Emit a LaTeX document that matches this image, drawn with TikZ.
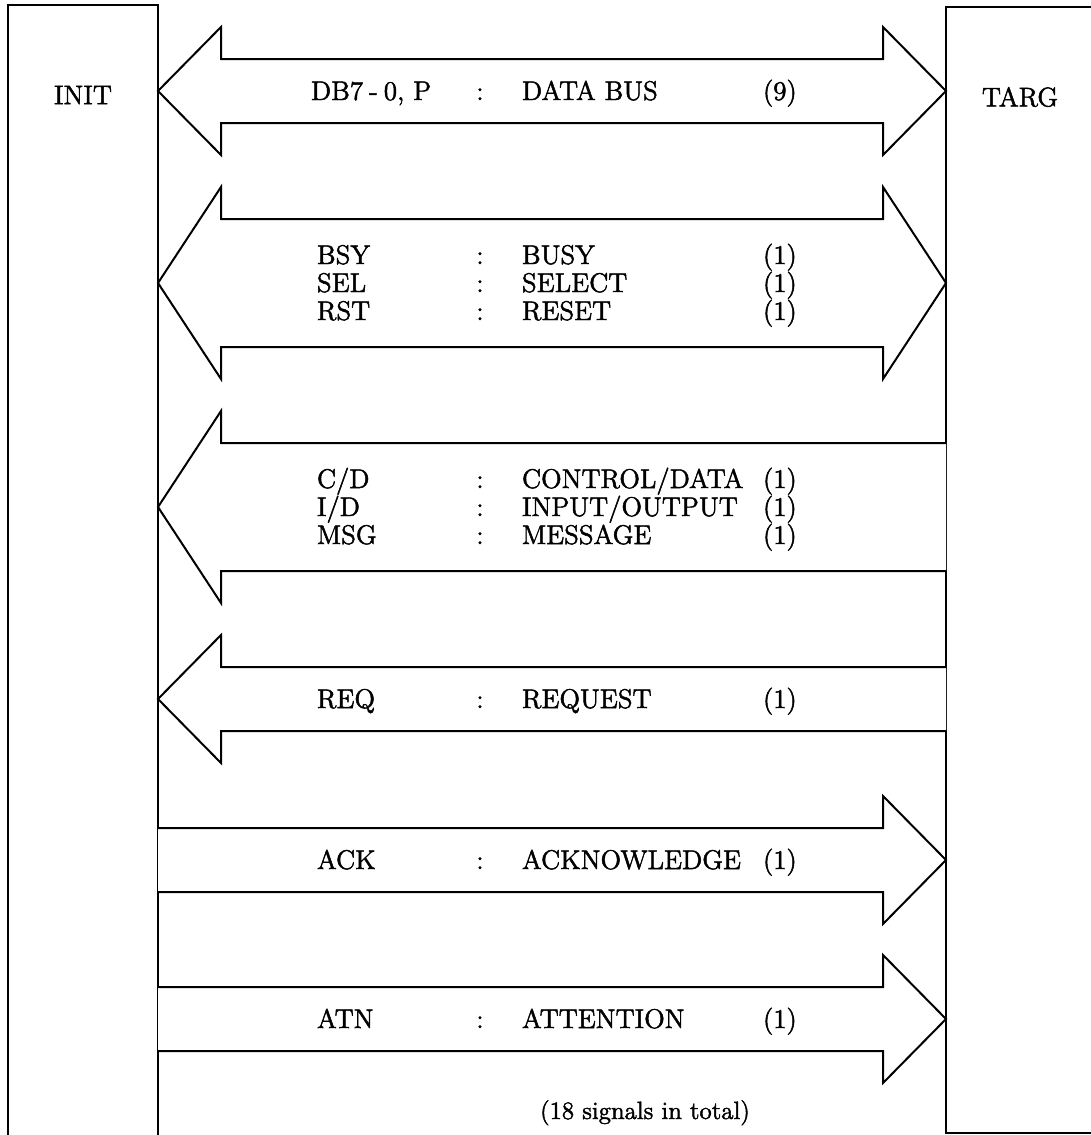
\documentclass[tikz,border=0pt]{standalone}
\usepackage{fontspec}
\setmainfont{Latin Modern Roman}[RawFeature={embolden=1.8}]
\begin{document}
\begin{tikzpicture}[x=0.5pt,y=-0.5pt,
  line width=1pt, line join=miter,
  unitbox/.style={draw, line width=1pt, inner sep=0pt},
  unitname/.style={font=\fontsize{13.5}{16}\selectfont},
  sig/.style={font=\fontsize{13.5}{16}\selectfont, anchor=base west, inner sep=0pt},
  sep/.style={font=\fontsize{13.5}{16}\selectfont, anchor=base, inner sep=0pt},
  note/.style={font=\fontsize{12.5}{15}\selectfont, anchor=base, inner sep=0pt},
  busarrow/.style={draw, line width=1pt, fill=white}]
\useasboundingbox (0,0) rectangle (1091,1135);

% initiator and target units
\node[unitbox, minimum width=75pt, minimum height=570pt] (initbox) at (83,575) {};
\node[unitbox, minimum width=100pt, minimum height=563pt] (targbox) at (1046,570) {};
\node[unitname] (init) at (83,95) {INIT};
\node[unitname] (targ) at (1020,97) {TARG};

% data bus (both ways)
\draw[busarrow] (158,91) -- (221,27) -- (221,59) -- (883,59) -- (883,27) -- (946,91)
  -- (883,155) -- (883,123) -- (221,123) -- (221,155) -- cycle;
% BSY, SEL, RST (both ways)
\draw[busarrow] (158,283) -- (221,187) -- (221,219) -- (883,219) -- (883,187) -- (946,283)
  -- (883,379) -- (883,347) -- (221,347) -- (221,379) -- cycle;
% C/D, I/O, MSG (target to initiator)
\draw[busarrow] (946,443) -- (221,443) -- (221,411) -- (158,507) -- (221,603) -- (221,571) -- (946,571);
% REQ (target to initiator)
\draw[busarrow] (946,667) -- (221,667) -- (221,635) -- (158,699) -- (221,763) -- (221,731) -- (946,731);
% ACK (initiator to target)
\draw[busarrow] (158,828) -- (883,828) -- (883,796) -- (946,860) -- (883,924) -- (883,892) -- (158,892);
% ATN (initiator to target)
\draw[busarrow] (158,987) -- (883,987) -- (883,955) -- (946,1019) -- (883,1083) -- (883,1051) -- (158,1051);

% signal lists
\node[sig] (db)   at (310,100) {DB7\hspace{0.22em}-\hspace{0.22em}0, P};
\node[sep] (dbc)  at (480,100) {:};
\node[sig] (dbn)  at (521,100) {DATA BUS};
\node[sig] (dbw)  at (762,100) {(9)};

\node[sig] (bsy)  at (316,264) {BSY};
\node[sep] (bsyc) at (480,264) {:};
\node[sig] (bsyn) at (521,264) {BUSY};
\node[sig] (bsyw) at (762,264) {(1)};
\node[sig] (sel)  at (316,292) {SEL};
\node[sep] (selc) at (480,292) {:};
\node[sig] (seln) at (521,292) {SELECT};
\node[sig] (selw) at (762,292) {(1)};
\node[sig] (rst)  at (316,320) {RST};
\node[sep] (rstc) at (480,320) {:};
\node[sig] (rstn) at (521,320) {RESET};
\node[sig] (rstw) at (762,320) {(1)};

\node[sig] (cd)   at (316,488) {C/D};
\node[sep] (cdc)  at (480,488) {:};
\node[sig] (cdn)  at (521,488) {CONTROL/DATA};
\node[sig] (cdw)  at (762,488) {(1)};
\node[sig] (io)   at (316,516) {I/D};
\node[sep] (ioc)  at (480,516) {:};
\node[sig] (ion)  at (521,516) {INPUT/OUTPUT};
\node[sig] (iow)  at (762,516) {(1)};
\node[sig] (msg)  at (316,544) {MSG};
\node[sep] (msgc) at (480,544) {:};
\node[sig] (msgn) at (521,544) {MESSAGE};
\node[sig] (msgw) at (762,544) {(1)};

\node[sig] (req)  at (316,708) {REQ};
\node[sep] (reqc) at (480,708) {:};
\node[sig] (reqn) at (521,708) {REQUEST};
\node[sig] (reqw) at (762,708) {(1)};

\node[sig] (ack)  at (316,869) {ACK};
\node[sep] (ackc) at (480,869) {:};
\node[sig] (ackn) at (521,869) {ACKNOWLEDGE};
\node[sig] (ackw) at (762,869) {(1)};

\node[sig] (atn)  at (316,1028) {ATN};
\node[sep] (atnc) at (480,1028) {:};
\node[sig] (atnn) at (521,1028) {ATTENTION};
\node[sig] (atnw) at (762,1028) {(1)};

\node[note] (total) at (645,1119) {(18 signals in total)};
\end{tikzpicture}
\end{document}
